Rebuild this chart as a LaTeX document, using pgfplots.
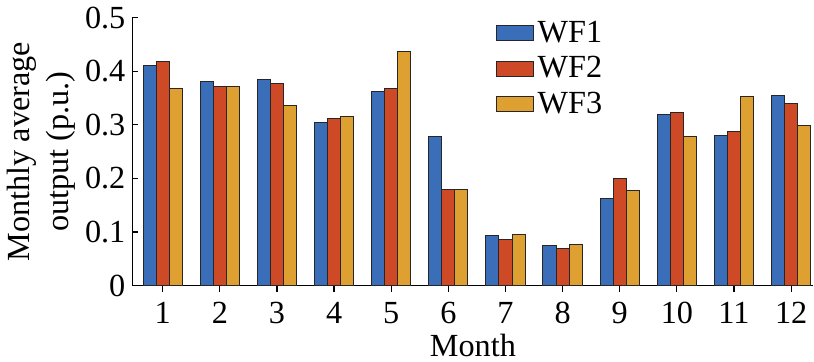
\documentclass[border=0pt]{standalone}
\usepackage{fontspec}
\setmainfont{Liberation Serif}
\usepackage{pgfplots}
\pgfplotsset{compat=1.18}
\definecolor{wfA}{RGB}{58,110,184}
\definecolor{wfB}{RGB}{206,74,38}
\definecolor{wfC}{RGB}{222,160,48}
\begin{document}
\begin{tikzpicture}[font=\fontsize{16}{19.5}\selectfont]
\begin{axis}[
  scale only axis,
  width=338pt, height=133pt,
  xmin=0.47, xmax=12.39,
  ymin=0, ymax=0.5,
  axis x line*=bottom, axis y line*=left,
  axis line style={-, line width=0.6pt},
  tick align=inside,
  major tick length=3pt,
  tick style={black, line width=0.6pt},
  xtick={1,...,12},
  ytick={0,0.1,0.2,0.3,0.4,0.5},
  /pgf/number format/assume math mode=true,
  yticklabel style={/pgf/number format/fixed, /pgf/number format/precision=1},
  xticklabel style={inner sep=1pt, yshift=-4pt},
  xlabel={Month},
  ylabel={Monthly average\\output (p.u.)},
  ylabel style={align=center, yshift=-2pt},
  xlabel style={inner sep=2pt, yshift=-2pt},
  ybar=0pt,
  bar width=0.229,
  every axis plot/.append style={draw=black!85, line width=0.5pt},
  legend style={at={(0.525,1.0)}, anchor=north west, yshift=2.5pt, draw=none, fill=none,
    row sep=1.5pt, legend cell align=left,
    font=\fontsize{16}{19.5}\selectfont},
  legend image code/.code={\draw[#1,draw=black!85,line width=0.5pt] (0pt,-3.75pt) rectangle (18pt,3.75pt);},
]
\addplot[fill=wfA] coordinates {(1,0.410) (2,0.380) (3,0.385) (4,0.305) (5,0.363) (6,0.278) (7,0.094) (8,0.075) (9,0.162) (10,0.320) (11,0.280) (12,0.354)};
\addplot[fill=wfB] coordinates {(1,0.419) (2,0.372) (3,0.378) (4,0.312) (5,0.368) (6,0.180) (7,0.086) (8,0.070) (9,0.199) (10,0.323) (11,0.288) (12,0.340)};
\addplot[fill=wfC] coordinates {(1,0.367) (2,0.372) (3,0.337) (4,0.316) (5,0.436) (6,0.179) (7,0.096) (8,0.076) (9,0.177) (10,0.278) (11,0.352) (12,0.299)};
\legend{WF1,WF2,WF3}
\end{axis}
\end{tikzpicture}
\end{document}
